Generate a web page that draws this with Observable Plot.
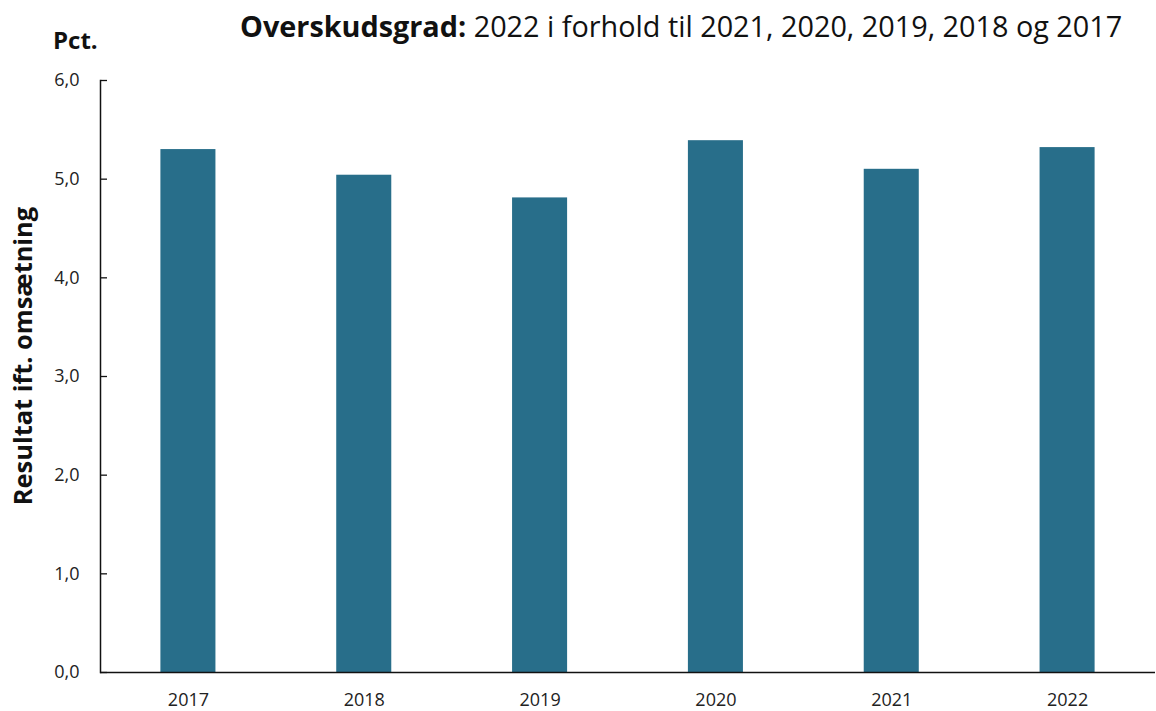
<!DOCTYPE html>
<html>
<head>
<meta charset="utf-8">
<script src="https://cdn.jsdelivr.net/npm/d3@7"></script>
<script src="https://cdn.jsdelivr.net/npm/@observablehq/plot@0.6"></script>
<style>
  html, body { margin: 0; padding: 0; background: #fff; }
  #wrap { position: relative; width: 1156px; height: 711px; font-family: "Open Sans", sans-serif; color: #111; }
  #wrap svg { position: absolute; left: 0; top: 0; }
  .title { position: absolute; left: 240px; top: 11px; font-size: 28.8px; line-height: 29px; white-space: nowrap; }
  .title b { font-weight: 700; }
  .unit { position: absolute; left: 53px; top: 28px; font-size: 24px; line-height: 24px; font-weight: 700; }
  .ylab { position: absolute; left: 23px; top: 356px; font-size: 25.4px; line-height: 25.4px; font-weight: 700; white-space: nowrap;
          transform: translate(-50%, -50%) rotate(-90deg); }
</style>
</head>
<body>
<div id="wrap">
  <div class="title"><b>Overskudsgrad:</b> 2022 i forhold til 2021, 2020, 2019, 2018 og 2017</div>
  <div class="unit">Pct.</div>
  <div class="ylab">Resultat ift. omsætning</div>
</div>
<script>
const years = ["2017", "2018", "2019", "2020", "2021", "2022"];
const values = [5.30, 5.04, 4.81, 5.39, 5.10, 5.32];
const yTicks = [0, 1, 2, 3, 4, 5, 6];

const data = years.map((year, i) => ({year, value: values[i]}));
const fmt = d => d.toFixed(1).replace(".", ",");

const chart = Plot.plot({
  width: 1156,
  height: 711,
  marginLeft: 100,
  marginRight: 1,
  marginTop: 80,
  marginBottom: 39,
  style: {fontFamily: "Open Sans, sans-serif", fontSize: "18px", color: "#222", background: "transparent"},
  x: {domain: years, paddingInner: 0.687, paddingOuter: 0.3435, round: false, label: null},
  y: {domain: [0, 6], label: null},
  marks: [
    Plot.barY(data, {x: "year", y: "value", fill: "#286e8a"}),
    Plot.axisX({tickSize: 0, tickPadding: 21, label: null, fill: "#222"}),
    Plot.axisY({ticks: yTicks, tickFormat: fmt, tickSize: 0, tickPadding: 21, label: null, fill: "#222"}),
    Plot.axisY({ticks: yTicks, anchor: "right", frameAnchor: "left", tickSize: 6, tickFormat: () => "", label: null, stroke: "#111", strokeWidth: 1.3}),
    Plot.frame({anchor: "left", stroke: "#111", strokeWidth: 1.5}),
    Plot.ruleY([0], {stroke: "#111", strokeWidth: 1.5})
  ]
});
document.getElementById("wrap").prepend(chart);
</script>
</body>
</html>
